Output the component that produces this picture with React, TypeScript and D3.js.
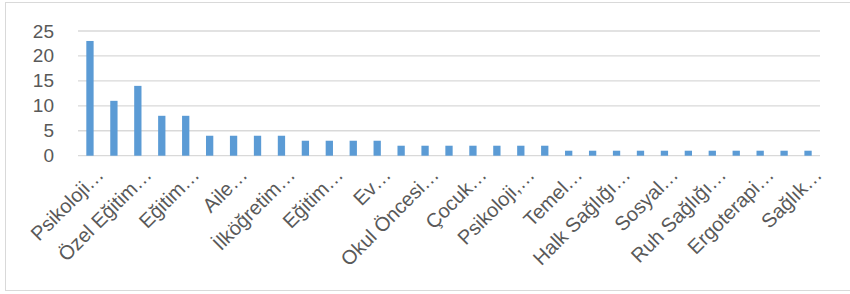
import React from "react";
import * as d3 from "d3";

const categories: string[] = [
  "Psikoloji…", "Psikolojik Danışmanlık…", "Özel Eğitim…", "Rehberlik…", "Eğitim…",
  "Çocuk Gelişimi…", "Aile…", "Sınıf Öğretmenliği…", "İlköğretim…", "Eğitim Bilimleri…",
  "Eğitim…", "Hemşirelik…", "Ev…", "Beden Eğitimi…", "Okul Öncesi…",
  "Sosyoloji…", "Çocuk…", "Fizyoterapi…", "Psikoloji,…", "Sağlık Bilimleri…",
  "Temel…", "Dil ve Konuşma…", "Halk Sağlığı…", "Spor Bilimleri…", "Sosyal…",
  "İşitme Engelliler…", "Ruh Sağlığı…", "Odyoloji…", "Ergoterapi…", "Tıp…",
  "Sağlık…",
];
const values: number[] = [
  23, 11, 14, 8, 8, 4, 4, 4, 4, 3, 3, 3, 3, 2, 2, 2, 2, 2, 2, 2, 1, 1, 1, 1, 1, 1, 1, 1, 1, 1, 1,
];
const yTicks: number[] = [0, 5, 10, 15, 20, 25];

const W = 850;
const H = 294;
const left = 78;
const right = 820;
const top = 31;
const bottom = 155.7;

export default function App() {
  const x = d3
    .scaleBand<number>()
    .domain(values.map((_, i) => i))
    .range([left, right])
    .paddingInner(0.695)
    .paddingOuter(0.3475);
  const y = d3.scaleLinear().domain([0, 25]).range([bottom, top]);
  const step = x.step();
  const font = "'Liberation Sans', Arial, sans-serif";
  return (
    <svg
      width={W}
      height={H}
      style={{ position: "absolute", left: 0, top: 0, background: "#fff" }}
    >
      <rect x={5.5} y={2.5} width={W + 10} height={288} fill="#fff" stroke="#d9d9d9" strokeWidth={1} />
      {yTicks.map((t) => (
        <g key={t}>
          <line x1={left} x2={right} y1={y(t)} y2={y(t)} stroke="#d9d9d9" strokeWidth={1.3} />
          <text
            x={54}
            y={y(t)}
            textAnchor="end"
            dominantBaseline="central"
            fontFamily={font}
            fontSize={19}
            fill="#595959"
          >
            {t}
          </text>
        </g>
      ))}
      {values.map((v, i) => (
        <rect
          key={i}
          x={x(i)!}
          y={y(v)}
          width={x.bandwidth()}
          height={bottom - y(v)}
          fill="#5b9bd5"
        />
      ))}
      {categories.map((c, i) => {
        if (i % 2 !== 0) return null;
        const cx = left + step * (i + 0.5);
        return (
          <text
            key={i}
            transform={`translate(${cx + 15},${176}) rotate(-45)`}
            textAnchor="end"
            fontFamily={font}
            fontSize={20}
            fill="#595959"
          >
            {c}
          </text>
        );
      })}
    </svg>
  );
}
